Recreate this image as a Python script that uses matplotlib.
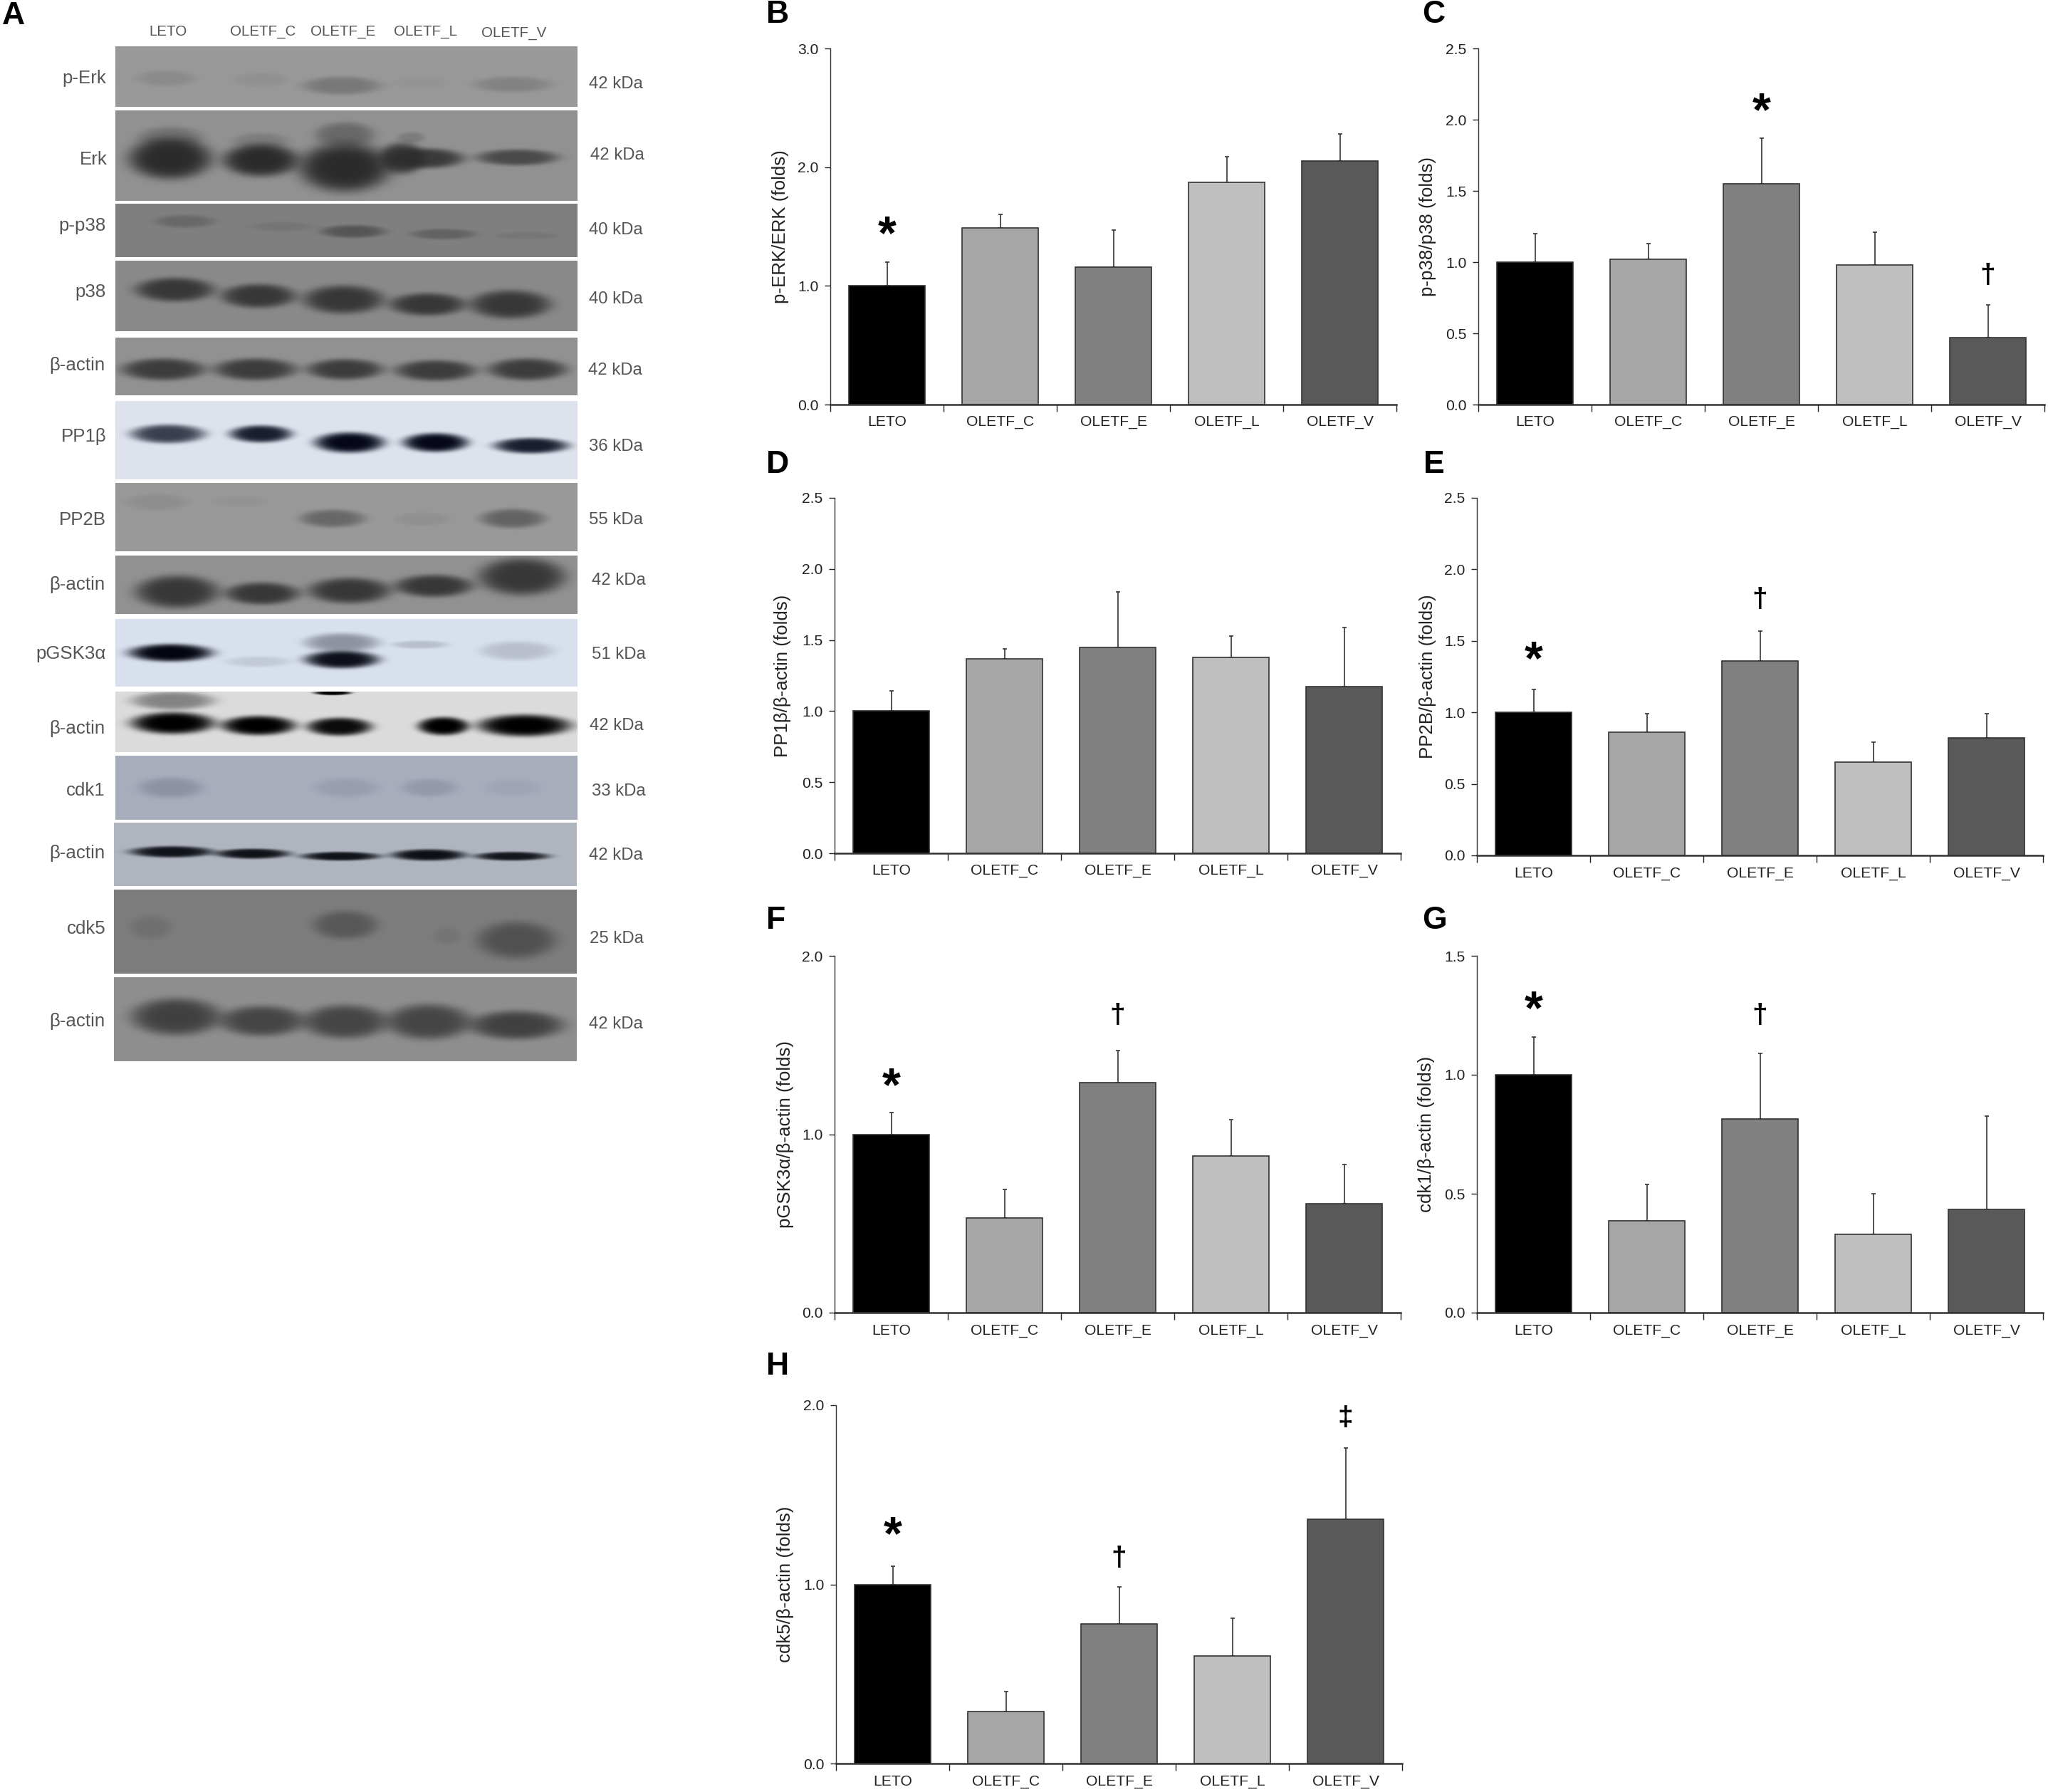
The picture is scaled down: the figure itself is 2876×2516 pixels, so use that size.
import numpy as np
import matplotlib
matplotlib.use('Agg')
import matplotlib.pyplot as plt

plt.rcParams['font.family'] = ['Liberation Sans', 'DejaVu Sans']

W, H = 2876, 2516
DPI = 200

groups = ['LETO', 'OLETF_C', 'OLETF_E', 'OLETF_L', 'OLETF_V']
bar_colors = ['#000000', '#a6a6a6', '#808080', '#bfbfbf', '#595959']

# bar heights and top of the error whisker
erk_mean = [1.0, 1.49, 1.16, 1.87, 2.05]
erk_top = [1.2, 1.6, 1.47, 2.09, 2.28]
p38_mean = [1.0, 1.02, 1.55, 0.98, 0.47]
p38_top = [1.2, 1.13, 1.87, 1.21, 0.70]
pp1_mean = [1.0, 1.37, 1.45, 1.38, 1.17]
pp1_top = [1.14, 1.44, 1.84, 1.53, 1.59]
pp2_mean = [1.0, 0.86, 1.36, 0.65, 0.82]
pp2_top = [1.16, 0.99, 1.57, 0.79, 0.99]
gsk_mean = [1.0, 0.53, 1.29, 0.88, 0.61]
gsk_top = [1.12, 0.69, 1.47, 1.08, 0.83]
cdk1_mean = [1.0, 0.385, 0.815, 0.33, 0.435]
cdk1_top = [1.16, 0.54, 1.09, 0.50, 0.825]
cdk5_mean = [1.0, 0.29, 0.78, 0.60, 1.365]
cdk5_top = [1.1, 0.40, 0.985, 0.81, 1.76]

# significance signs: (group index, value height, sign)
erk_signs = [(0, 1.48, '*')]
p38_signs = [(2, 2.10, '*'), (4, 0.925, '†')]
pp1_signs = []
pp2_signs = [(0, 1.41, '*'), (2, 1.81, '†')]
gsk_signs = [(0, 1.30, '*'), (2, 1.68, '†')]
cdk1_signs = [(0, 1.30, '*'), (2, 1.26, '†')]
cdk5_signs = [(0, 1.31, '*'), (2, 1.16, '†'), (4, 1.93, '‡')]

# blot labels and band layouts: (x frac, y frac, half width, half height, strength)
blot_names = ['p-Erk', 'Erk', 'p-p38', 'p38', 'β-actin', 'PP1β', 'PP2B', 'β-actin',
              'pGSK3α', 'β-actin', 'cdk1', 'β-actin', 'cdk5', 'β-actin']
blot_kda = ['42 kDa', '42 kDa', '40 kDa', '40 kDa', '42 kDa', '36 kDa', '55 kDa', '42 kDa',
            '51 kDa', '42 kDa', '33 kDa', '42 kDa', '25 kDa', '42 kDa']
bands_perk = [(.11, .53, .065, .13, .14), (.315, .55, .06, .12, .08), (.49, .65, .085, .15, .32),
              (.66, .6, .06, .1, .05), (.86, .63, .085, .13, .22)]
bands_erk = [(.119, .3, .07, .12, .3), (.315, .34, .06, .09, .2), (.497, .27, .065, .14, .4),
             (.64, .3, .03, .06, .2), (.119, .53, .09, .23, 1), (.315, .55, .082, .18, 1),
             (.497, .63, .1, .27, 1), (.674, .53, .08, .11, .85), (.62, .53, .05, .17, .9),
             (.87, .52, .088, .09, .7)]
bands_pp38 = [(.15, .33, .065, .12, .3), (.36, .43, .07, .09, .13), (.515, .52, .07, .12, .55),
              (.71, .57, .07, .1, .38), (.89, .6, .07, .07, .12)]
bands_p38 = [(.129, .41, .085, .17, .95), (.31, .5, .08, .17, .95), (.494, .55, .087, .2, .95),
             (.676, .62, .082, .16, .95), (.855, .62, .087, .2, .95)]
bands_actin1 = [(.104, .55, .09, .19, .95), (.303, .55, .089, .19, .95), (.497, .55, .082, .18, .95),
                (.693, .57, .087, .18, .95), (.892, .55, .085, .19, .95)]
bands_pp1 = [(.114, .42, .08, .12, .75), (.315, .42, .067, .11, .9), (.507, .53, .075, .13, 1),
             (.693, .53, .07, .12, 1), (.9, .57, .08, .1, .9)]
bands_pp2 = [(.09, .28, .07, .12, .12), (.27, .27, .06, .08, .07), (.47, .52, .07, .13, .55),
             (.665, .53, .06, .1, .1), (.86, .52, .07, .14, .6)]
bands_actin2 = [(.134, .62, .09, .28, .95), (.318, .65, .08, .19, .95), (.507, .6, .089, .22, .95),
                (.689, .52, .084, .19, .95), (.88, .36, .094, .32, .95)]
bands_gsk = [(.12, .5, .09, .13, 1), (.31, .63, .07, .08, .1), (.49, .35, .08, .14, .35),
             (.49, .6, .08, .13, .95), (.66, .38, .06, .06, .15), (.87, .47, .08, .14, .15)]
bands_actin3 = [(.125, .15, .09, .15, .4), (.47, .02, .04, .04, 1), (.125, .52, .09, .18, 1),
                (.31, .56, .08, .16, 1), (.485, .58, .07, .15, .95), (.71, .57, .055, .15, 1),
                (.885, .56, .1, .18, 1)]
bands_cdk1 = [(.12, .5, .07, .16, .3), (.5, .5, .07, .15, .17), (.68, .5, .06, .14, .22),
              (.86, .5, .06, .13, .1)]
bands_actin4 = [(.125, .46, .09, .09, .95), (.3, .49, .08, .08, .95), (.49, .53, .085, .07, .95),
                (.68, .51, .08, .09, .97), (.86, .53, .08, .07, .93)]
bands_cdk5 = [(.08, .45, .045, .14, .18), (.5, .42, .07, .17, .5), (.72, .55, .03, .1, .12),
              (.87, .6, .085, .22, .6)]
bands_actin5 = [(.135, .47, .097, .22, .9), (.32, .52, .092, .18, .85), (.5, .53, .092, .2, .85),
                (.68, .53, .092, .21, .85), (.87, .57, .102, .17, .9)]
all_bands = [bands_perk, bands_erk, bands_pp38, bands_p38, bands_actin1, bands_pp1, bands_pp2,
             bands_actin2, bands_gsk, bands_actin3, bands_cdk1, bands_actin4, bands_cdk5, bands_actin5]

# layout of the blot column, in full-size pixels
strip_tops = [65, 155, 286, 366, 474, 563, 678, 780, 869, 971, 1061, 1155, 1249, 1372]
strip_bottoms = [150, 282, 361, 465, 555, 673, 774, 862, 964, 1056, 1151, 1244, 1367, 1490]
strip_lefts = [162] * 10 + [162, 160, 160, 160]
strip_rights = [811] * 10 + [811, 810, 810, 810]
name_ys = [110, 224, 317, 410, 513, 613, 730, 821, 918, 1023, 1110, 1198, 1304, 1434]
name_xs = [149, 151, 149, 149, 147, 149, 149, 147, 149, 147, 148, 147, 149, 147]
kda_ys = [118, 218, 323, 420, 520, 627, 730, 815, 919, 1019, 1111, 1201, 1318, 1438]
kda_xs = [827, 829, 827, 827, 826, 827, 827, 831, 831, 828, 831, 827, 828, 827]
strip_bg = [(.60,) * 3, (.57,) * 3, (.50,) * 3, (.54,) * 3, (.57,) * 3, (.87, .89, .93), (.60,) * 3,
            (.57,) * 3, (.85, .88, .93), (.86,) * 3, (.66, .68, .74), (.69, .71, .75), (.49,) * 3, (.56,) * 3]
strip_ink = [(.2,) * 3, (.17,) * 3, (.2,) * 3, (.2,) * 3, (.22,) * 3, (.02, .03, .1), (.25,) * 3,
             (.2,) * 3, (.01, .02, .06), (0, 0, 0), (.3, .33, .4), (.03, .04, .06), (.2,) * 3, (.22,) * 3]

head_xs = [236, 369, 482, 598, 722]
head_ys = [45, 45, 45, 44, 47]

TEXT_GRAY = '#555555'


def px_box(left, top, right, bottom):
    return [left / W, 1 - bottom / H, (right - left) / W, (bottom - top) / H]


def draw_strip(ax, left, top, right, bottom, bg, ink, bands):
    w = int(right - left)
    h = int(bottom - top)
    xx, yy = np.meshgrid((np.arange(w) + .5) / w, (np.arange(h) + .5) / h)
    cover = np.zeros((h, w))
    for cx, cy, hw, hh, amp in bands:
        blob = amp * np.exp(-(((xx - cx) / hw) ** 2 + ((yy - cy) / hh) ** 2) ** 2.5)
        cover = 1 - (1 - cover) * (1 - blob)
    img = np.zeros((h, w, 3))
    for c in range(3):
        img[:, :, c] = bg[c] * (1 - cover) + ink[c] * cover
    ax.imshow(img, extent=(left, right, bottom, top), aspect='auto', interpolation='bilinear', zorder=1)


def bar_panel(box, means, tops, ymax, yticks, ylabel, label_x, signs):
    ax = fig.add_axes(px_box(*box))
    x = np.arange(len(groups))
    err = np.array(tops) - np.array(means)
    ax.bar(x, means, width=0.667, color=bar_colors, edgecolor='#333333', linewidth=0.6, zorder=2)
    ax.errorbar(x, means, yerr=[np.zeros(len(x)), err], fmt='none', ecolor='#333333',
                elinewidth=0.6, capsize=1, capthick=0.6, zorder=1)
    ax.set_xlim(-.5, 4.5)
    ax.set_ylim(0, ymax)
    ax.set_yticks(yticks)
    ax.set_yticklabels(['%.1f' % t for t in yticks])
    ax.set_xticks(np.arange(-.5, 5, 1))
    ax.set_xticklabels([])
    for i, g in enumerate(groups):
        ax.text(i, -0.05, g, transform=ax.get_xaxis_transform(), ha='center', va='center',
                fontsize=7.6, color='#222222')
    ax.tick_params(axis='y', labelsize=7.6, length=3, width=.5, pad=3, colors='#222222')
    ax.tick_params(axis='x', length=3.5, width=.5, colors='#222222')
    for s in ['top', 'right']:
        ax.spines[s].set_visible(False)
    ax.spines['left'].set_linewidth(.5)
    ax.spines['left'].set_color('#333333')
    ax.spines['bottom'].set_linewidth(.9)
    ax.spines['bottom'].set_color('#333333')
    ax.set_ylabel(ylabel, fontsize=9.3, color='#222222')
    # the label anchors on its right edge, so move it over by half its height
    ax.yaxis.set_label_coords((label_x + 11 - box[0]) / (box[2] - box[0]), .5)
    for idx, val, sign in signs:
        size = 24 if sign == '*' else 14
        drop = {'*': -4, '†': -1.5, '‡': 0}[sign]
        ax.annotate(sign, (idx, val), xytext=(0, drop), textcoords='offset points',
                    ha='center', va='center', fontsize=size, color='black', fontweight='bold')
    return ax


fig = plt.figure(figsize=(W / DPI, H / DPI), dpi=DPI, facecolor='white')

# full-figure layer in pixel coordinates for the blots and letters
back = fig.add_axes([0, 0, 1, 1])
back.set_xlim(0, W)
back.set_ylim(H, 0)
back.axis('off')

for i in range(len(blot_names)):
    draw_strip(back, strip_lefts[i], strip_tops[i], strip_rights[i], strip_bottoms[i],
               strip_bg[i], strip_ink[i], all_bands[i])
    back.text(name_xs[i], name_ys[i], blot_names[i], ha='right', va='center', fontsize=9.3, color=TEXT_GRAY)
    back.text(kda_xs[i], kda_ys[i], blot_kda[i], ha='left', va='center', fontsize=8.6, color=TEXT_GRAY)
back.set_xlim(0, W)
back.set_ylim(H, 0)

for g, hx, hy in zip(groups, head_xs, head_ys):
    back.text(hx, hy, g, ha='center', va='center', fontsize=7.4, color=TEXT_GRAY)

letters = ['A', 'B', 'C', 'D', 'E', 'F', 'G', 'H']
letter_xs = [3, 1076, 1997, 1076, 1999, 1076, 1997, 1076]
letter_ys = [22, 21, 21, 652, 652, 1292, 1292, 1918]
for t, lx, ly in zip(letters, letter_xs, letter_ys):
    back.text(lx, ly, t, ha='left', va='center', fontsize=16, fontweight='bold', color='black')

# panels B to H
bar_panel((1166, 68, 1961, 568), erk_mean, erk_top, 3.0, [0, 1, 2, 3], 'p-ERK/ERK (folds)', 1097, erk_signs)
bar_panel((2076, 68, 2871, 568), p38_mean, p38_top, 2.5, [0, .5, 1, 1.5, 2, 2.5], 'p-p38/p38 (folds)', 2006, p38_signs)
bar_panel((1172, 699, 1967, 1198), pp1_mean, pp1_top, 2.5, [0, .5, 1, 1.5, 2, 2.5], 'PP1β/β-actin (folds)', 1100, pp1_signs)
bar_panel((2074, 699, 2869, 1201), pp2_mean, pp2_top, 2.5, [0, .5, 1, 1.5, 2, 2.5], 'PP2B/β-actin (folds)', 2006, pp2_signs)
bar_panel((1172, 1342, 1967, 1843), gsk_mean, gsk_top, 2.0, [0, 1, 2], 'pGSK3α/β-actin (folds)', 1104, gsk_signs)
bar_panel((2074, 1342, 2869, 1843), cdk1_mean, cdk1_top, 1.5, [0, .5, 1, 1.5], 'cdk1/β-actin (folds)', 2004, cdk1_signs)
bar_panel((1174, 1973, 1969, 2476), cdk5_mean, cdk5_top, 2.0, [0, 1, 2], 'cdk5/β-actin (folds)', 1104, cdk5_signs)

fig.savefig('out.png', dpi=DPI, facecolor='white')
